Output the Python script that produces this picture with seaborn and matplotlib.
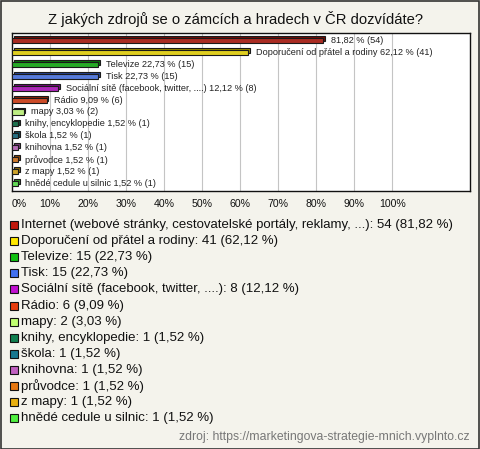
import matplotlib
matplotlib.use("Agg")
import matplotlib.pyplot as plt
import matplotlib.patheffects as pe
from matplotlib.patches import Rectangle
import matplotlib.colors as mcolors
import seaborn as sns
import pandas as pd

categories = [
    "Internet (webové stránky, cestovatelské portály, reklamy, ...)",
    "Doporučení od přátel a rodiny",
    "Televize",
    "Tisk",
    "Sociální sítě (facebook, twitter, ....)",
    "Rádio",
    "mapy",
    "knihy, encyklopedie",
    "škola",
    "knihovna",
    "průvodce",
    "z mapy",
    "hnědé cedule u silnic",
]
counts = [54, 41, 15, 15, 8, 6, 2, 1, 1, 1, 1, 1, 1]
percents = [81.82, 62.12, 22.73, 22.73, 12.12, 9.09, 3.03, 1.52, 1.52, 1.52, 1.52, 1.52, 1.52]
bar_names = ["", "Doporučení od přátel a rodiny", "Televize", "Tisk",
             "Sociální sítě (facebook, twitter, ....)", "Rádio", "mapy",
             "knihy, encyklopedie", "škola", "knihovna", "průvodce", "z mapy",
             "hnědé cedule u silnic"]
colors = ["#c0180c", "#ffe800", "#10c010", "#4070f0", "#c010d0", "#e83c0c",
          "#c0ff70", "#108050", "#187890", "#c060c0", "#e87810", "#e8b010", "#50f040"]
tick_values = [0, 10, 20, 30, 40, 50, 60, 70, 80, 90, 100]
title = "Z jakých zdrojů se o zámcích a hradech v ČR dozvídáte?"
source = "zdroj: https://marketingova-strategie-mnich.vyplnto.cz"

sns.set_theme(style="white")
plt.rcParams["font.family"] = ["Liberation Sans", "DejaVu Sans"]

BG = "#f4f3ec"
fig = plt.figure(figsize=(4.8, 4.49), dpi=100, facecolor=BG)
ax = fig.add_axes([12 / 480, 1 - 191 / 449, 458 / 480, 158 / 449])
ax.set_facecolor("white")

df = pd.DataFrame({"cat": categories, "pct": percents})
sns.barplot(data=df, x="pct", y="cat", hue="cat", palette=colors, legend=False,
            width=0.42, edgecolor="#1a1a1a", linewidth=0.8, ax=ax, orient="h")

def fmt(v):
    return f"{v:.2f}".replace(".", ",")

for p, c in zip(ax.patches, colors):
    dark = tuple(x * 0.6 for x in mcolors.to_rgb(c))
    p.set_path_effects([
        pe.PathPatchEffect(offset=(1.4, 1.4), facecolor=dark, edgecolor="#1a1a1a", linewidth=0.8),
        pe.Normal(),
    ])
    p.set_zorder(3)

for i, (name, v, n) in enumerate(zip(bar_names, percents, counts)):
    txt = f"{fmt(v)} % ({n})" if not name else f"{name} {fmt(v)} % ({n})"
    ax.annotate(txt, xy=(v, i), xytext=(5.5, 0), textcoords="offset points",
                va="center", ha="left", fontsize=6.6, color="#222222", zorder=4)

ax.set_xlim(0, 120.5)
ax.set_ylim(12.6, -0.6)
ax.set_xticks(tick_values)
ax.set_xticklabels([f"{t}%" for t in tick_values], fontsize=7.6, color="#111111")
ax.get_xticklabels()[0].set_horizontalalignment("left")
ax.set_yticks([])
ax.set_xlabel("")
ax.set_ylabel("")
ax.tick_params(axis="x", length=0, pad=6)
for t in tick_values[1:]:
    ax.axvline(t, color="#c4c4c4", linewidth=0.8, zorder=1)
for s in ax.spines.values():
    s.set_visible(True)
    s.set_color("#111111")
    s.set_linewidth(1.0)

fig.text(236 / 480, 1 - 19 / 449, title, ha="center", va="center", fontsize=10.6, color="#111111")

y0 = 225
for i, (name, n, v, c) in enumerate(zip(categories, counts, percents, colors)):
    y = y0 + i * 16.1
    fig.patches.append(Rectangle((10 / 480, 1 - (y + 4) / 449), 8 / 480, 8 / 449,
                                 transform=fig.transFigure, facecolor=c,
                                 edgecolor="#111111", linewidth=0.8))
    fig.text(21 / 480, 1 - y / 449, f"{name}: {n} ({fmt(v)} %)", ha="left", va="center",
             fontsize=9.5, color="#111111")

fig.text(470 / 480, 1 - 437 / 449, source, ha="right", va="center", fontsize=8.8, color="#777777")

fig.patches.append(Rectangle((0.5 / 480, 0.5 / 449), 478.5 / 480, 447.5 / 449,
                             transform=fig.transFigure, facecolor="none",
                             edgecolor="#333333", linewidth=1.2))

fig.savefig("out.png", dpi=100, facecolor=BG)
